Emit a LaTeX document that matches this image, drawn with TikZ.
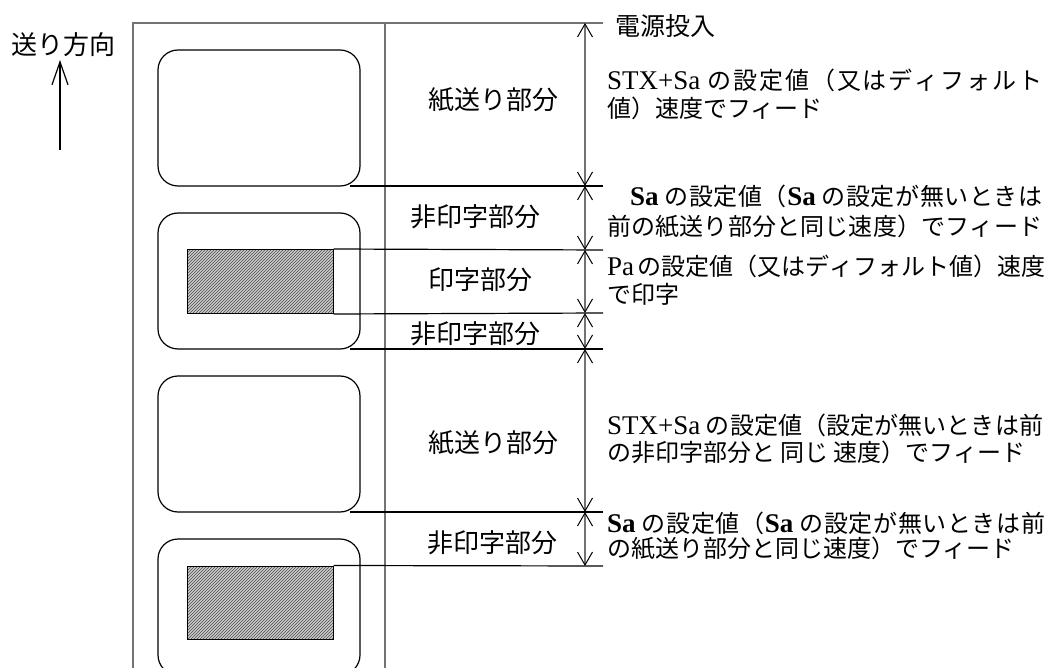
\documentclass[tikz,border=0pt]{standalone}
\usepackage{fontspec}
\usetikzlibrary{arrows.meta,patterns}
\newfontfamily\jp{Noto Sans CJK JP}
\newfontfamily\lt{Liberation Serif}
\newcommand\la[1]{{\lt\fontsize{27}{28}\selectfont #1}}
\newcommand\lb[1]{{\lt\bfseries\fontsize{27}{28}\selectfont #1}}
\makeatletter
\newcommand\jst[2]{\hbox to #1{\@tfor\jx:=#2\do{\jx\hskip 0pt plus 1fil\relax}\unskip}}
\makeatother
\tikzset{
  frame/.style={draw=black!55, line width=1.4pt},
  tick/.style={draw=black, line width=1.2pt},
  lbl/.style={draw=black, line width=1.2pt, rounded corners=20pt, minimum width=202pt, minimum height=136pt, inner sep=0pt},
  hatch/.style={draw=black, line width=1pt, preaction={fill=gray!40}, pattern=north east lines, pattern color=black!70, minimum width=146pt, inner sep=0pt},
  dimline/.style={draw=black!55, line width=1.4pt, {Straight Barb[length=13pt,width=15pt,color=black,line width=1pt]}-{Straight Barb[length=13pt,width=15pt,color=black,line width=1pt]}},
  mid/.style={font=\jp\fontsize{26}{30}\selectfont, inner sep=0pt},
  rt/.style={font=\jp\fontsize{24}{28}\selectfont, inner sep=0pt, anchor=base west}
}
\begin{document}
\begin{tikzpicture}[x=1pt,y=-1pt]
\useasboundingbox (0,0) rectangle (1047,668);
\clip (0,0) rectangle (1047,668);
% frame
\coordinate (ftl) at (133,23);
\coordinate (fbl) at (133,668);
\coordinate (fmt) at (385,23);
\coordinate (fmb) at (385,668);
\coordinate (ftr) at (603,23);
\draw[frame] (fbl) -- (ftl) -- (ftr);
\draw[frame] (fmt) -- (fmb);
% labels
\node[lbl] (L1) at (259,118) {};
\node[lbl] (L2) at (259,281) {};
\node[lbl] (L3) at (259,444) {};
\node[lbl] (L4) at (259,607) {};
\node[hatch, minimum height=64pt] (H2) at (260,281.5) {};
\node[hatch, minimum height=73pt] (H4) at (260,602.5) {};
% tick line ends
\coordinate (a1) at (350,186); \coordinate (b1) at (603,186);
\coordinate (a2) at (H2.north east); \coordinate (b2) at (603,250);
\coordinate (a3) at (H2.south east); \coordinate (b3) at (603,313);
\coordinate (a4) at (350,349); \coordinate (b4) at (603,349);
\coordinate (a5) at (350,512); \coordinate (b5) at (603,512);
\coordinate (a6) at (H4.north east); \coordinate (b6) at (603,566);
\draw[tick] (a1) -- (b1);
\draw[tick] (a2) -- (b2);
\draw[tick] (a3) -- (b3);
\draw[tick] (a4) -- (b4);
\draw[tick] (a5) -- (b5);
\draw[tick] (a6) -- (b6);
% dimension chain
\coordinate (d0) at (585,23);
\coordinate (d1) at (585,186);
\coordinate (d2) at (585,250);
\coordinate (d3) at (585,313);
\coordinate (d4) at (585,349);
\coordinate (d5) at (585,512);
\coordinate (d6) at (585,566);
\draw[dimline] (d0) -- (d1);
\draw[dimline] (d1) -- (d2);
\draw[dimline] (d2) -- (d3);
\draw[dimline] (d3) -- (d4);
\draw[dimline] (d4) -- (d5);
\draw[dimline] (d5) -- (d6);
% feed direction
\node[mid] (feed) at (63,45) {送り方向};
\coordinate (fa0) at (60,150);
\coordinate (fa1) at (60,60);
\draw[line width=1.2pt, -{Straight Barb[length=23pt,width=16pt]}] (fa0) -- (fa1);
% middle labels
\node[mid] (m1) at (493,100) {紙送り部分};
\node[mid] (m2) at (475,217) {非印字部分};
\node[mid] (m3) at (480,280) {印字部分};
\node[mid] (m4) at (475,334) {非印字部分};
\node[mid] (m5) at (493,443) {紙送り部分};
\node[mid] (m6) at (492,543) {非印字部分};
% right texts
\node[rt, font=\jp\fontsize{25}{28}\selectfont] (pw) at (615,36) {電源投入};
\node[rt] (t1a) at (607,90) {\jst{435pt}{{\la{STX+Sa}\ }の設定値（又はディフォルト}};
\node[rt] (t1b) at (607,118) {値）速度でフィード};
\node[rt] (t2a) at (630,206) {\jst{412pt}{{\lb{Sa}\ }の設定値（{\lb{Sa}\ }の設定が無いときは}};
\node[rt] (t2b) at (607,236) {\jst{435pt}{前の紙送り部分と同じ速度）でフィード}};
\node[rt] (t3a) at (607,276) {\jst{435pt}{{\la{Pa}\ }の設定値（又はディフォルト値）速度}};
\node[rt] (t3b) at (607,304) {で印字};
\node[rt] (t4a) at (607,434) {\jst{436pt}{{\la{STX+Sa}\ }の設定値（設定が無いときは前}};
\node[rt] (t4b) at (607,461) {の非印字部分と 同じ 速度）でフィード};
\node[rt] (t5a) at (607,532) {\jst{438pt}{{\lb{Sa}\ }の設定値（{\lb{Sa}\ }の設定が無いときは前}};
\node[rt] (t5b) at (607,557) {の紙送り部分と同じ速度）でフィード};
\end{tikzpicture}
\end{document}
